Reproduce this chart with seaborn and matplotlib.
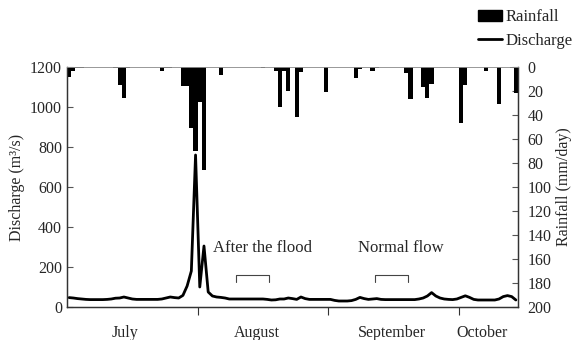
import numpy as np
import pandas as pd
import matplotlib
matplotlib.use("Agg")
import matplotlib.pyplot as plt
import seaborn as sns
from matplotlib.patches import Patch
from matplotlib.lines import Line2D

# daily discharge (m3/s), 1 July -> mid October
discharge = [47, 45, 42, 40, 38, 37, 37, 37, 37, 38,
             40, 44, 45, 50, 45, 40, 38, 38, 38, 38,
             38, 38, 40, 45, 50, 47, 45, 58, 105, 180,
             760, 100, 305, 75, 55, 50, 48, 45, 40, 40,
             40, 40, 40, 40, 40, 40, 40, 38, 35, 36,
             40, 40, 45, 42, 38, 50, 42, 38, 38, 38,
             38, 38, 38, 33, 30, 30, 30, 32, 38, 48,
             42, 38, 40, 42, 38, 37, 37, 37, 37, 37,
             37, 37, 37, 40, 45, 55, 72, 55, 45, 40,
             38, 37, 40, 48, 56, 48, 38, 35, 35, 35,
             35, 35, 40, 52, 57, 52, 35]

# rainy days (day index from 1 July) and rainfall (mm/day)
rain_days = [0, 1, 2, 3, 11, 12, 13, 14, 22, 23, 24,
             27, 28, 29, 30, 31, 32, 36, 46, 49, 50, 51, 52,
             54, 55, 61, 68, 69, 72, 73, 80, 81, 84, 85, 86,
             93, 94, 99, 102, 105, 106]
rain_mm = [8, 3, 1, 1, 1, 15, 26, 1, 3, 1, 1,
           16, 16, 51, 70, 29, 86, 7, 1, 3, 33, 3, 20,
           42, 4, 21, 9, 2, 3, 1, 5, 27, 17, 26, 14,
           47, 15, 3, 31, 1, 22]

month_starts = [31, 62, 93]
month_names = ["July", "August", "September", "October"]
month_mid = [13.8, 45, 77, 98.5]

period_names = ["After the flood", "Normal flow"]
period_start = [40, 73]
period_end = [48, 81]

n_days = len(discharge)
days = np.arange(n_days)
rain = np.zeros(n_days)
rain[rain_days] = rain_mm
df = pd.DataFrame({"x": days + 0.5, "discharge": discharge, "rain": rain})

sns.set_theme(style="ticks")
plt.rcParams["font.family"] = "serif"
plt.rcParams["font.serif"] = ["Liberation Serif", "DejaVu Serif"]

fig = plt.figure(figsize=(5.73, 3.40), dpi=100)
ax = fig.add_axes([67 / 573, 33 / 340, 451 / 573, 240 / 340])
ax2 = ax.twinx()

sns.lineplot(data=df, x="x", y="discharge", ax=ax, color="black", lw=2.0)
sns.barplot(data=df, x="x", y="rain", ax=ax2, native_scale=True, width=1.0,
            color="black", saturation=1, linewidth=0)

for a in (ax, ax2):
    if a.get_legend() is not None:
        a.get_legend().remove()

ax.set_xlim(0, n_days)
ax.set_ylim(0, 1200)
ax.set_yticks(range(0, 1201, 200))
ax2.set_ylim(200, 0)
ax2.set_yticks(range(0, 201, 20))
ax2.set_xlim(0, n_days)

ax.set_xticks(month_starts)
ax.set_xticklabels([])
ax.set_xticks(month_mid, minor=True)
ax.set_xticklabels(month_names, minor=True)
ax.tick_params(axis="x", which="major", direction="out", length=6, width=0.8, color="#333333")
ax.tick_params(axis="x", which="minor", length=0, pad=13, labelsize=11.5)
ax.tick_params(axis="y", direction="in", length=4, width=0.8, labelsize=11.5, color="#555555")
ax2.tick_params(axis="y", direction="in", length=4, width=0.8, labelsize=11.5, color="#555555", pad=7)

ax.set_xlabel("")
ax.set_ylabel("Discharge (m³/s)", fontsize=11.5, labelpad=4)
ax2.set_ylabel("Rainfall (mm/day)", fontsize=11.5, labelpad=3)
ax2.set_xlabel("")

for a in (ax, ax2):
    for s in ("left", "right", "bottom"):
        a.spines[s].set_color("#333333")
        a.spines[s].set_linewidth(0.9)
    a.spines["top"].set_color("#999999")
    a.spines["top"].set_linewidth(0.6)
    a.spines["top"].set_visible(True)
    a.spines["right"].set_visible(True)

# bracketed periods
for name, s, e in zip(period_names, period_start, period_end):
    ax.plot([s, s, e, e], [126, 162, 162, 126], color="#444444", lw=0.8)
    ax.text((s + e) / 2 + 2.3, 296, name, ha="center", va="center", fontsize=12)

handles = [Patch(color="black"), Line2D([], [], color="black", lw=2.0)]
fig.legend(handles, ["Rainfall", "Discharge"], loc="upper right",
           bbox_to_anchor=(1.013, 0.995), frameon=False, fontsize=12,
           handlelength=1.4, handletextpad=0.25, borderaxespad=0.05,
           labelspacing=0.45)

fig.savefig("out.png", dpi=100)
